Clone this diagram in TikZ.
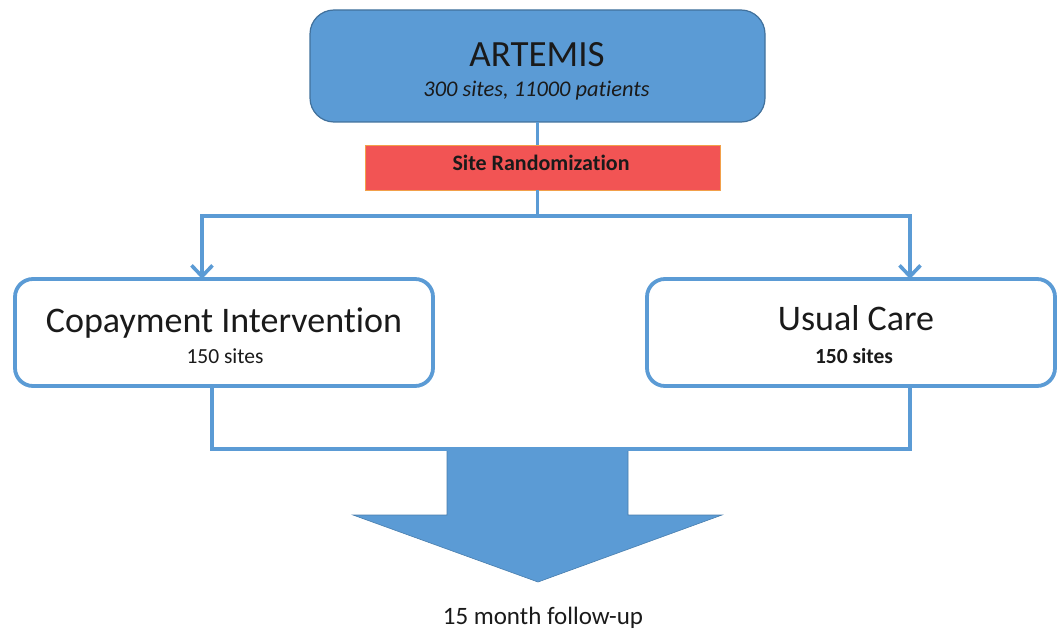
\documentclass[tikz,border=0pt]{standalone}
\usepackage{fontspec}
\setmainfont{Carlito}[Ligatures={NoCommon,NoContextual}, RawFeature={-liga;-clig;-calt;-dlig}]
\usetikzlibrary{arrows.meta}
\definecolor{accblue}{HTML}{5B9BD5}
\definecolor{accdark}{HTML}{41719C}
\definecolor{randred}{HTML}{F25454}
\definecolor{randedge}{HTML}{F2A04A}
\definecolor{txt}{HTML}{1A1A1A}
\tikzset{
  flowline/.style={draw=accblue, line width=3.6pt},
  flowarrow/.style={flowline, -{Straight Barb[length=11pt,width=21pt,line width=3.6pt]}},
  armbox/.style={draw=accblue, line width=3.8pt, fill=white, rounded corners=18pt, inner sep=0pt, outer sep=0pt},
  lbl/.style={anchor=base, inner sep=0pt, text=txt},
}
\begin{document}
\begin{tikzpicture}[x=1pt,y=-1pt]
\useasboundingbox (0,0) rectangle (1058,631);
% top box
\node[draw=accdark, line width=1.2pt, fill=accblue, rounded corners=24pt, minimum width=455pt, minimum height=112pt, inner sep=0pt, outer sep=0pt] (top) at (537.5,66) {};
\node[lbl, font=\fontsize{37}{40}\selectfont] (title) at (537,67) {ARTEMIS};
\node[lbl, font=\fontsize{22.4}{26}\selectfont\itshape] (sub) at (536.5,97) {300 sites, 11000 patients};
% randomization
\node[draw=randedge, line width=0.6pt, fill=randred, minimum width=355pt, minimum height=45pt, inner sep=0pt, outer sep=0pt] (rand) at (542.5,167.5) {};
\node[lbl, font=\fontsize{22}{26}\selectfont\bfseries] (randtxt) at (541,171) {Site Randomization};
% arms
\node[armbox, minimum width=418pt, minimum height=107pt] (left) at (224,332.5) {};
\node[armbox, minimum width=408pt, minimum height=107pt] (right) at (851,332.5) {};
\node[lbl, font=\fontsize{36}{40}\selectfont] (lt) at (224,332) {Copayment Intervention};
\node[lbl, font=\fontsize{21.5}{25}\selectfont] (ls) at (225,363) {150 sites};
\node[lbl, font=\fontsize{36}{40}\selectfont] (rt) at (856,330) {Usual Care};
\node[lbl, font=\fontsize{21.5}{25}\selectfont\bfseries] (rs) at (854,363) {150 sites};
% connectors top
\coordinate (jL) at (202,216);
\coordinate (jR) at (910,216);
\draw[flowline] (top.south) -- (top.south |- rand.north);
\draw[flowline] (top.south |- rand.south) -- (top.south |- jL);
\draw[flowline] ([xshift=-1.8pt]jL) -- ([xshift=1.8pt]jR);
\draw[flowarrow] (jL) -- (jL |- left.north);
\draw[flowarrow] (jR) -- (jR |- right.north);
% big arrow
\fill[accblue, draw=accdark!70!accblue, line width=0.6pt] (447,449) -- (628,449) -- (628,515) -- (722,515) -- (538,582) -- (353,515) -- (447,515) -- cycle;
% connectors bottom
\coordinate (bL) at (212,449);
\coordinate (bR) at (910,449);
\draw[flowline, line join=miter] (bL |- left.south) -- (bL) -- (bR) -- (bR |- right.south);
\node[lbl, font=\fontsize{25}{28}\selectfont] (fu) at (543,624) {15 month follow-up};
\end{tikzpicture}
\end{document}
